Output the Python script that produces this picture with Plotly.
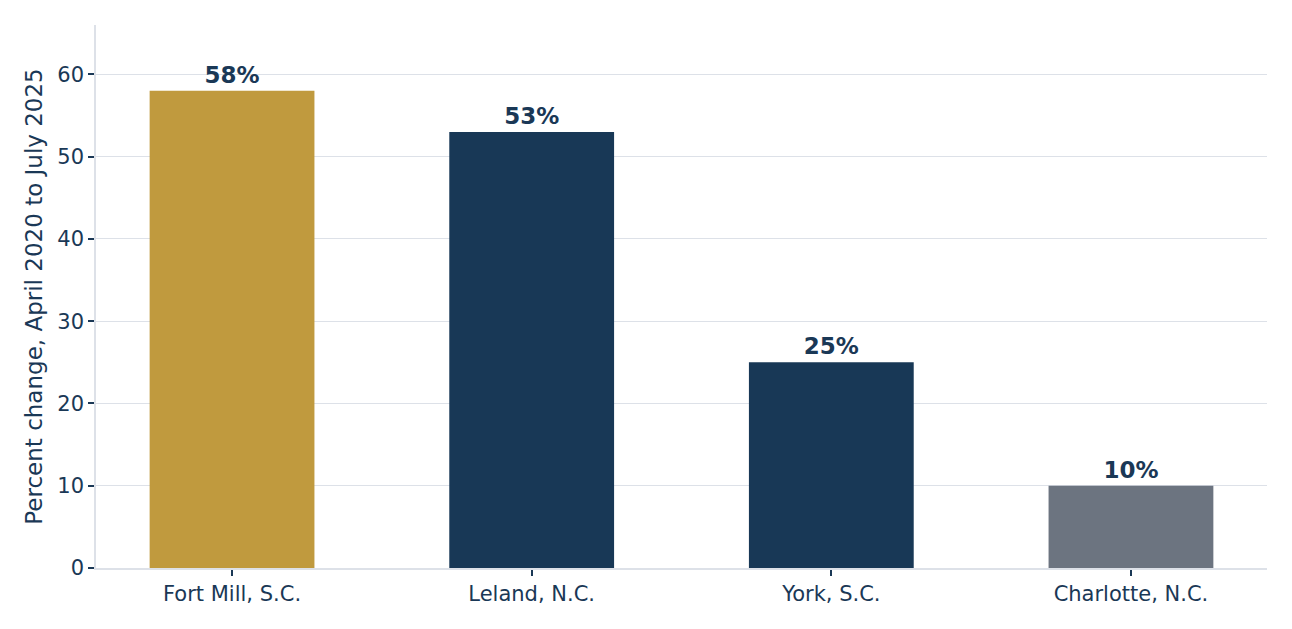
import plotly.graph_objects as go

cities = ["Fort Mill, S.C.", "Leland, N.C.", "York, S.C.", "Charlotte, N.C."]
pct_change = [58, 53, 25, 10]
bar_colors = ["#C09A3E", "#183856", "#183856", "#6C7480"]
y_ticks = [0, 10, 20, 30, 40, 50, 60]

navy = "#1A3856"
grid = "#DDE1E8"

fig = go.Figure(go.Bar(
    x=cities,
    y=pct_change,
    marker=dict(color=bar_colors, line=dict(width=0)),
    width=0.55,
    text=[f"{v}%" for v in pct_change],
    textposition="outside",
    textfont=dict(family="DejaVu Sans", size=23, color=navy, weight="bold"),
    cliponaxis=False,
))

# page body has an 8px margin, so the figure is sized to fit inside it
fig.update_layout(
    width=1276, height=613,
    margin=dict(l=88, r=17, t=17, b=53),
    plot_bgcolor="white", paper_bgcolor="white",
    font=dict(family="DejaVu Sans", color=navy, size=20),
    showlegend=False,
    xaxis=dict(
        range=[-0.454, 3.454],
        showline=True, linecolor=grid, linewidth=1.5,
        ticks="outside", ticklen=6, tickcolor=navy, tickwidth=1.5,
        tickfont=dict(size=21, color=navy),
        showgrid=False,
    ),
    yaxis=dict(
        range=[0, 66],
        tickvals=y_ticks,
        showline=True, linecolor=grid, linewidth=1.5,
        ticks="outside", ticklen=6, tickcolor=navy, tickwidth=1.5,
        tickfont=dict(size=21, color=navy),
        showgrid=True, gridcolor=grid, gridwidth=1.2,
        zeroline=False,
        title=dict(text="Percent change, April 2020 to July 2025",
                   font=dict(size=23, color=navy), standoff=8),
    ),
)

fig.write_html("out.html")
